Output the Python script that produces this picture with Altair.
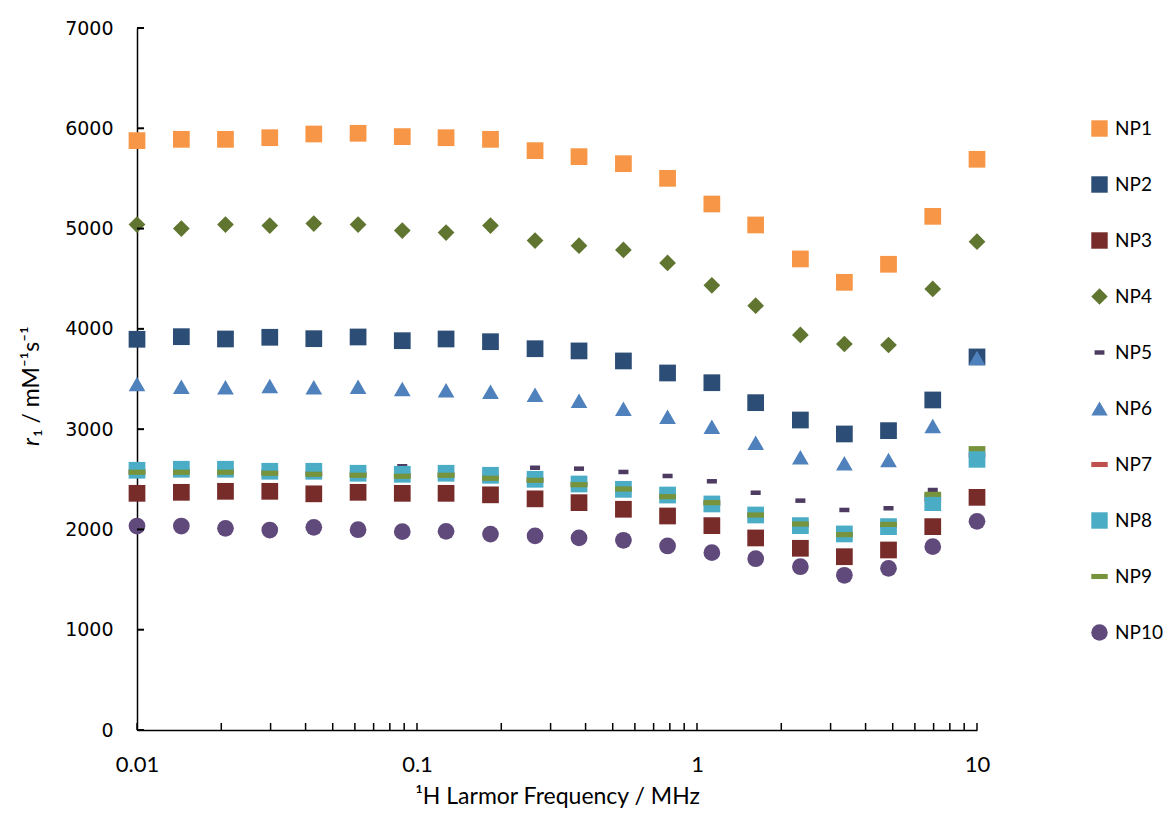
import altair as alt
import pandas as pd

names = ["NP1", "NP2", "NP3", "NP4", "NP5", "NP6", "NP7", "NP8", "NP9", "NP10"]
freq = [0.01, 0.0144, 0.0207, 0.0298, 0.0428, 0.0616, 0.0886, 0.127, 0.183, 0.264,
        0.379, 0.546, 0.785, 1.13, 1.62, 2.34, 3.36, 4.83, 6.95, 10.0]

np1 = [5877, 5890, 5890, 5906, 5943, 5950, 5917, 5906, 5890, 5777, 5717, 5647, 5501, 5245, 5036, 4697, 4464, 4644, 5122, 5691]
np2 = [3896, 3922, 3899, 3916, 3902, 3919, 3882, 3899, 3872, 3802, 3780, 3680, 3560, 3463, 3264, 3091, 2952, 2985, 3291, 3720]
np3 = [2360, 2370, 2380, 2380, 2355, 2370, 2360, 2360, 2345, 2305, 2267, 2201, 2134, 2038, 1915, 1812, 1728, 1795, 2028, 2320]
np4 = [5040, 5000, 5040, 5030, 5050, 5040, 4980, 4960, 5030, 4880, 4829, 4787, 4657, 4434, 4231, 3939, 3849, 3839, 4398, 4869]
np5 = [2600, 2605, 2610, 2600, 2600, 2610, 2630, 2610, 2600, 2615, 2606, 2573, 2533, 2480, 2366, 2287, 2194, 2211, 2393, 2740]
np6 = [3450, 3423, 3417, 3430, 3417, 3423, 3400, 3387, 3373, 3344, 3284, 3204, 3124, 3025, 2865, 2719, 2660, 2692, 3031, 3710]
np7 = [2575, 2580, 2580, 2570, 2560, 2550, 2540, 2545, 2525, 2495, 2450, 2400, 2335, 2260, 2144, 2046, 1952, 2040, 2300, 2742]
np8 = [2590, 2600, 2600, 2580, 2580, 2560, 2550, 2560, 2540, 2500, 2453, 2400, 2343, 2254, 2144, 2038, 1955, 2028, 2267, 2699]
np9 = [2570, 2570, 2570, 2560, 2550, 2540, 2530, 2540, 2510, 2490, 2446, 2403, 2327, 2267, 2144, 2054, 1948, 2050, 2350, 2805]
np10 = [2034, 2034, 2011, 1994, 2021, 1997, 1978, 1981, 1954, 1935, 1915, 1892, 1835, 1768, 1708, 1628, 1543, 1612, 1828, 2081]

series = [np1, np2, np3, np4, np5, np6, np7, np8, np9, np10]

colors = ["#F79646", "#2C4D75", "#772C2A", "#5F7530", "#4D3B62",
          "#4F81BD", "#C0504D", "#4BACC6", "#77933C", "#604A7B"]
DASH = "M-1,-0.31H1V0.31H-1Z"
SMALLDASH = "M-0.6,-0.27H0.6V0.27H-0.6Z"
shapes = ["square", "square", "square", "diamond", SMALLDASH,
          "triangle-up", DASH, "square", DASH, "circle"]

y_tick_values = [0, 1000, 2000, 3000, 4000, 5000, 6000, 7000]
x_label_values = [0.01, 0.1, 1, 10]
x_tick_values = [0.01, 0.02, 0.03, 0.04, 0.05, 0.06, 0.07, 0.08, 0.09,
                 0.1, 0.2, 0.3, 0.4, 0.5, 0.6, 0.7, 0.8, 0.9,
                 1, 2, 3, 4, 5, 6, 7, 8, 9, 10]

rows = []
for name, vals in zip(names, series):
    for f, v in zip(freq, vals):
        rows.append({"series": name, "freq": f, "r1": v})
df = pd.DataFrame(rows)

W, H = 840, 702
xscale = alt.Scale(type="log", domain=[0.01, 10], nice=False)
yscale = alt.Scale(domain=[0, 7000], nice=False)

XTITLE = "¹H Larmor Frequency / MHz"
xaxis = alt.Axis(values=x_label_values, format="~g", tickSize=0, grid=False,
                 labelFont="Lato", labelFontSize=22, labelColor="#000",
                 labelPadding=24, labelFlush=False, labelOverlap=False,
                 domainColor="#000", domainWidth=1.5,
                 title=XTITLE, titleFont="Lato",
                 titleFontSize=23, titleFontWeight="normal", titleColor="#000",
                 titlePadding=10)
yaxis = alt.Axis(values=y_tick_values, format="d", tickSize=0, grid=False,
                 labelFont="DejaVu Sans", labelFontSize=19, labelColor="#000",
                 labelPadding=24, labelFlush=False, labelOverlap=False,
                 domainColor="#000", domainWidth=1.5,
                 title="")

legend = alt.Legend(
    title=None, orient="none", legendX=953, legendY=91, padding=0,
    symbolSize=270, labelFont="Lato", labelFontSize=19, labelColor="#000",
    rowPadding=36, labelOffset=6, symbolStrokeWidth=0, symbolOpacity=1,
)

points = alt.Chart(df).mark_point(filled=True, size=280, opacity=1, strokeWidth=0).encode(
    x=alt.X("freq:Q", scale=xscale, axis=xaxis, title=XTITLE),
    y=alt.Y("r1:Q", scale=yscale, axis=yaxis, title=""),
    color=alt.Color("series:N", scale=alt.Scale(domain=names, range=colors), legend=legend),
    shape=alt.Shape("series:N", scale=alt.Scale(domain=names, range=shapes), legend=legend),
)

yticks = alt.Chart(pd.DataFrame({"v": y_tick_values})).mark_rule(
    color="#000", strokeWidth=2).encode(
    y=alt.Y("v:Q", scale=yscale, axis=yaxis, title=""),
    x=alt.value(0), x2=alt.value(7),
)

xticks = alt.Chart(pd.DataFrame({"f": x_tick_values})).mark_rule(
    color="#000", strokeWidth=1.5).encode(
    x=alt.X("f:Q", scale=xscale, axis=xaxis, title=XTITLE),
    y=alt.value(H), y2=alt.value(H - 7),
)

title_r = alt.Chart(pd.DataFrame({"t": ["r"]})).mark_text(
    angle=270, align="left", baseline="middle", font="Lato", fontSize=23,
    fontStyle="italic", color="#000").encode(
    text="t:N", x=alt.value(-105), y=alt.value(418))

title_rest = alt.Chart(pd.DataFrame({"t": ["₁ / mM⁻¹s⁻¹"]})).mark_text(
    angle=270, align="left", baseline="middle", font="Lato", fontSize=23,
    color="#000").encode(
    text="t:N", x=alt.value(-105), y=alt.value(409))

chart = alt.layer(points, xticks, yticks, title_r, title_rest).properties(
    width=W, height=H,
    autosize=alt.AutoSizeParams(type="none"),
    padding={"left": 129, "top": 20, "right": 189, "bottom": 81},
).configure(background="white").configure_view(stroke=None)

chart.save("out.html", embed_options={"renderer": "svg", "actions": False})
